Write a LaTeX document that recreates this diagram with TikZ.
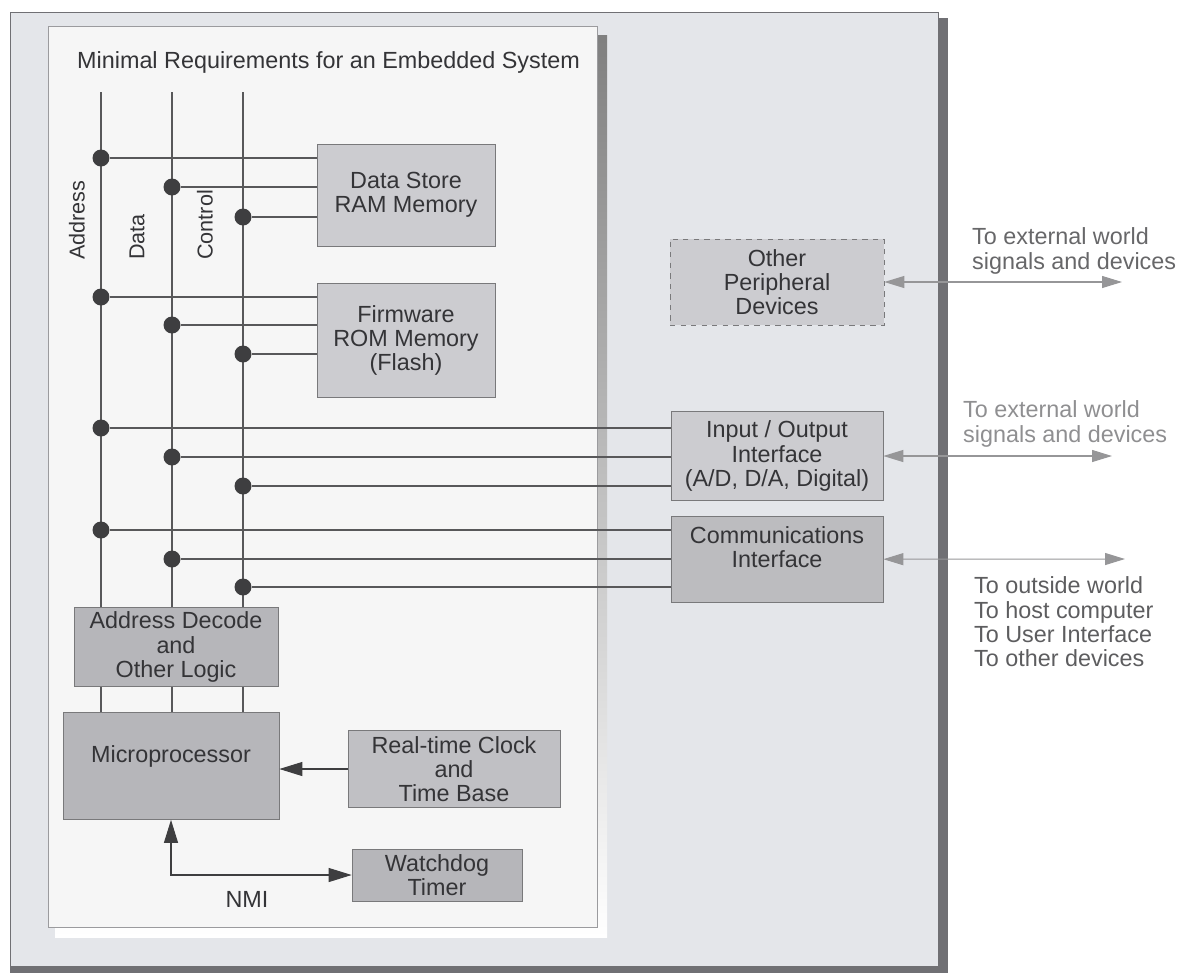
\documentclass[tikz,border=0pt]{standalone}
\usepackage{fontspec}
\setmainfont{Liberation Sans}
\usetikzlibrary{positioning, arrows.meta}
\definecolor{pagebg}{RGB}{228,230,234}
\definecolor{panel}{RGB}{246,246,246}
\definecolor{shade}{RGB}{62,62,64}
\definecolor{rimgray}{RGB}{112,112,116}
\definecolor{ink}{RGB}{52,52,55}
\definecolor{boxfill}{RGB}{204,204,208}
\definecolor{darkfill}{RGB}{182,182,186}
\definecolor{wire}{RGB}{88,88,90}
\definecolor{extgray}{RGB}{150,150,152}
\tikzset{
x=0.02cm, y=-0.02cm, % one unit is one pixel of the scan, y runs downwards
>={Triangle[length=0.46cm, width=0.28cm]}, % wide filled arrow heads
every node/.style={font=\fontsize{13.3}{13.8}\selectfont, text=ink, align=center},
block/.style={draw=wire!80, fill=boxfill, inner sep=0pt}, % grey boxes
darkblock/.style={block, fill=darkfill}, % boxes next to the processor
bus/.style={draw=wire, line width=0.6pt}, % address, data and control lines
buslabel/.style={rotate=90, anchor=west, font=\fontsize{12.3}{13}\selectfont}, % names of the buses
tap/.style={circle, fill=shade, inner sep=0pt, minimum size=0.34cm}, % taps on the bus
extarrow/.style={>={Triangle[length=0.4cm, width=0.24cm]}, <->, draw=extgray, line width=0.6pt}, % links to the outside
extlabel/.style={anchor=west, align=left}, % texts on the right
}

\begin{document}
\begin{tikzpicture}
                % frames
                \fill[rimgray] (10,18) rectangle (948,973);
                \filldraw[fill=pagebg, draw=rimgray] (10,12) rectangle (938,966);
                \fill[shade] (55,35) rectangle (607,937);
                \filldraw[fill=panel, draw=rimgray!70] (48,26) rectangle (597,927);
                \useasboundingbox (0,0) rectangle (1180,975);

                \node[anchor=west] (title) at (71,62) {Minimal Requirements for an Embedded System};

                % blocks
                \node[block, minimum width=3.56cm, minimum height=2.04cm] (ds) at (406,195) {Data Store\\RAM Memory};
                \node[block, minimum width=3.56cm, minimum height=2.28cm, below=0.74cm of ds] (fw) {Firmware\\ROM Memory\\(Flash)};
                \node[block, dashed, minimum width=4.28cm, minimum height=1.72cm] (opd) at (777,282) {Other\\Peripheral\\Devices};
                \node[block, minimum width=4.24cm, minimum height=1.78cm] (io) at (777,456) {Input / Output\\Interface\\(A/D, D/A, Digital)};
                \node[block, fill=boxfill!92!black, minimum width=4.24cm, minimum height=1.72cm, below=0.3cm of io] (comm) {Communications\\Interface\\~};
                \node[darkblock, minimum width=4.08cm, minimum height=1.58cm] (adec) at (176,647) {Address Decode\\and\\Other Logic};
                \node[darkblock, minimum width=4.32cm, minimum height=2.14cm] (cpu) at (171,766) {Microprocessor\\~};
                \node[block, fill=boxfill!94!black, minimum width=4.24cm, minimum height=1.54cm] (rtc) at (454,769) {Real-time Clock\\and\\Time Base};
                \node[darkblock, minimum width=3.4cm, minimum height=1.04cm] (wdt) at (437,875) {Watchdog\\Timer};

                % the three buses
                \coordinate (atop) at (101,92);
                \coordinate (dtop) at (172,92);
                \coordinate (ctop) at (243,92);
                \foreach \b in {atop,dtop,ctop} {
                    \draw[bus] (\b) -- (\b |- adec.north);
                    \draw[bus] (\b |- adec.south) -- (\b |- cpu.north);
                }
                \node[buslabel] (addrlbl) at (77,266) {Address};
                \node[buslabel] (datalbl) at (137,266) {Data};
                \node[buslabel] (ctrllbl) at (205,266) {Control};

                \node[tap] (a1) at (101,158) {};
                \node[tap] (d1) at (172,187) {};
                \node[tap] (c1) at (243,217) {};
                \node[tap] (a2) at (101,297) {};
                \node[tap] (d2) at (172,325) {};
                \node[tap] (c2) at (243,354) {};
                \node[tap] (a3) at (101,428) {};
                \node[tap] (d3) at (172,457) {};
                \node[tap] (c3) at (243,486) {};
                \node[tap] (a4) at (101,530) {};
                \node[tap] (d4) at (172,559) {};
                \node[tap] (c4) at (243,587) {};
                \foreach \r/\t in {1/ds,2/fw,3/io,4/comm}
                    \foreach \b in {a,d,c}
                        \draw[bus] (\b\r) -- (\b\r -| \t.west);

                % clock and watchdog
                \draw[->, draw=shade, line width=0.6pt] (rtc.west) -- (rtc.west -| cpu.east);
                \draw[<->, draw=shade, line width=0.6pt] (cpu.south) |- (wdt.west);
                \node (nmi) at (247,899) {NMI};

                % outside world
                \coordinate (opdout) at (1122,282);
                \coordinate (ioout) at (1112,456);
                \coordinate (commout) at (1125,559);
                \draw[extarrow] (opd.east) -- (opdout);
                \draw[extarrow] (io.east) -- (ioout);
                \draw[extarrow] (comm.east) -- (commout);
                \node[extlabel, text=ink!75] (ext1) at (966,251) {To external world\\signals and devices};
                \node[extlabel, text=ink!55] (ext2) at (957,424) {To external world\\signals and devices};
                \node[extlabel, text=ink!80] (ext3) at (968,622) {To outside world\\To host computer\\To User Interface\\To other devices};
\end{tikzpicture}
\end{document}
